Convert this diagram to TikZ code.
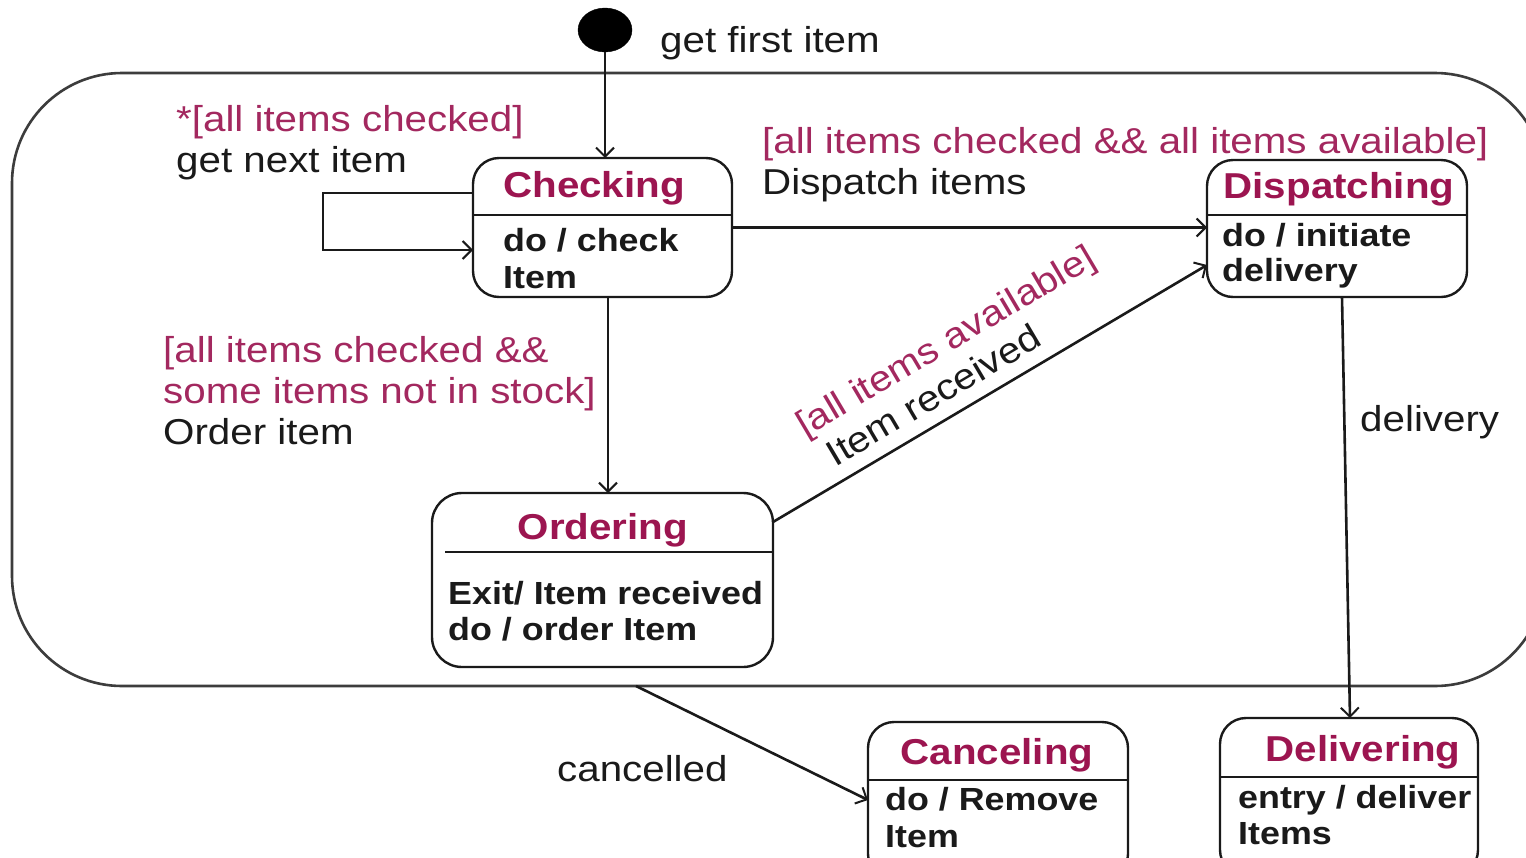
\documentclass[tikz,border=0pt]{standalone}
\usepackage{fontspec}
\setmainfont{Liberation Sans}[FakeStretch=1.12]
\usetikzlibrary{arrows.meta,shapes.geometric}
\definecolor{guard}{HTML}{A3285F}
\definecolor{sttitle}{HTML}{9C1550}
\definecolor{ink}{HTML}{1A1A1A}
\tikzset{
  conn/.style={draw=ink, line width=2.6pt, -{Straight Barb[length=9pt,width=18pt,line width=2pt]}},
  stbox/.style={draw=ink, line width=2.4pt, rectangle, rounded corners=26pt, inner sep=0pt, outer sep=0pt, fill=white},
  divider/.style={draw=ink, line width=2.4pt},
  frame/.style={draw=ink!85, line width=2.6pt, rectangle, rounded corners=110pt, inner sep=0pt, outer sep=0pt},
  lbl/.style={inner sep=0pt, anchor=base west, text=ink, font=\fontsize{36}{40}\selectfont},
  grd/.style={lbl, text=guard},
  ttl/.style={inner sep=0pt, anchor=base, text=sttitle, font=\fontsize{36}{40}\selectfont\bfseries},
  body/.style={inner sep=0pt, anchor=base west, text=ink, font=\fontsize{32}{36}\selectfont\bfseries},
  startdot/.style={ellipse, fill=black, draw=black, inner sep=0pt, minimum width=54pt, minimum height=44pt}
}
\begin{document}
\begin{tikzpicture}[x=1pt,y=-1pt]
\useasboundingbox (0,0) rectangle (1526,857);
\fill[white] (0,0) rectangle (1526,857);
\clip (0,0) rectangle (1526,857);

% composite state frame
\node[frame, minimum width=1533pt, minimum height=613pt] (outer) at (778.5,379.5) {};

% initial pseudo-state
\node[startdot] (init) at (605,30) {};
\node[lbl] (tfirst) at (660,52) {get first item};

% states
\node[stbox, minimum width=259pt, minimum height=139pt] (chk) at (602.5,227.5) {};
\draw[divider] ([yshift=-57pt]chk.north west) -- ([yshift=-57pt]chk.north east);
\node[ttl] (chkT) at (594,197) {Checking};
\node[body] (chkB1) at (503,251) {do / check};
\node[body] (chkB2) at (503,288) {Item};

\node[stbox, minimum width=260pt, minimum height=137pt] (disp) at (1337,228.5) {};
\draw[divider] ([yshift=-55pt]disp.north west) -- ([yshift=-55pt]disp.north east);
\node[ttl] (dispT) at (1339,198) {Dispatching};
\node[body] (dispB1) at (1222,246) {do / initiate};
\node[body] (dispB2) at (1222,281) {delivery};

\node[stbox, rounded corners=30pt, minimum width=341pt, minimum height=174pt] (ord) at (602.5,580) {};
\draw[divider] ([xshift=13pt,yshift=-59pt]ord.north west) -- ([yshift=-59pt]ord.north east);
\node[ttl] (ordT) at (603,539) {Ordering};
\node[body] (ordB1) at (448,604) {Exit/ Item received};
\node[body] (ordB2) at (448,640) {do / order Item};

\node[stbox, minimum width=260pt, minimum height=158pt] (canc) at (998,801) {};
\draw[divider] ([yshift=-58pt]canc.north west) -- ([yshift=-58pt]canc.north east);
\node[ttl] (cancT) at (997,764) {Canceling};
\node[body] (cancB1) at (885,810) {do / Remove};
\node[body] (cancB2) at (885,847) {Item};

\node[stbox, minimum width=258pt, minimum height=158pt] (deliv) at (1349,797) {};
\draw[divider] ([yshift=-59pt]deliv.north west) -- ([yshift=-59pt]deliv.north east);
\node[ttl] (delivT) at (1363,761) {Delivering};
\node[body] (delivB1) at (1238,808) {entry / deliver};
\node[body] (delivB2) at (1238,844) {Items};

% transitions
\draw[conn] (init.south) -- (init.south |- chk.north);
\draw[conn] ([yshift=34.5pt]chk.west) -- ++(-150,0) |- ([yshift=-22.5pt]chk.west);
\draw[conn] (chk.east) -- (chk.east -| disp.west);
\draw[conn] ([xshift=5.5pt]chk.south) -- ([xshift=5.5pt]chk.south |- ord.north);
\draw[conn] ([yshift=58pt]ord.east) -- ([yshift=-36.5pt]disp.west);
\draw[conn] ([xshift=5pt]disp.south) -- ([xshift=1pt]deliv.north);
\draw[conn] ([xshift=-142.5pt]outer.south) -- ([yshift=1pt]canc.west);

% transition labels
\node[grd] (gLoop) at (176,131) {*[all items checked]};
\node[lbl] (aLoop) at (176,172) {get next item};
\node[grd] (gDisp) at (762,153) {[all items checked \&\& all items available]};
\node[lbl] (aDisp) at (762,194) {Dispatch items};
\node[grd] (gOrd1) at (163,362) {[all items checked \&\&};
\node[grd] (gOrd2) at (163,403) {some items not in stock]};
\node[lbl] (aOrd) at (163,444) {Order item};
\node[grd, anchor=center, rotate=30.6] (gRecv) at (947,343) {[all items available]};
\node[lbl, anchor=center, rotate=30.6] (aRecv) at (933,395) {Item received};
\node[lbl] (aDeliv) at (1360,431) {delivery};
\node[lbl] (aCanc) at (557,781) {cancelled};
\end{tikzpicture}
\end{document}
